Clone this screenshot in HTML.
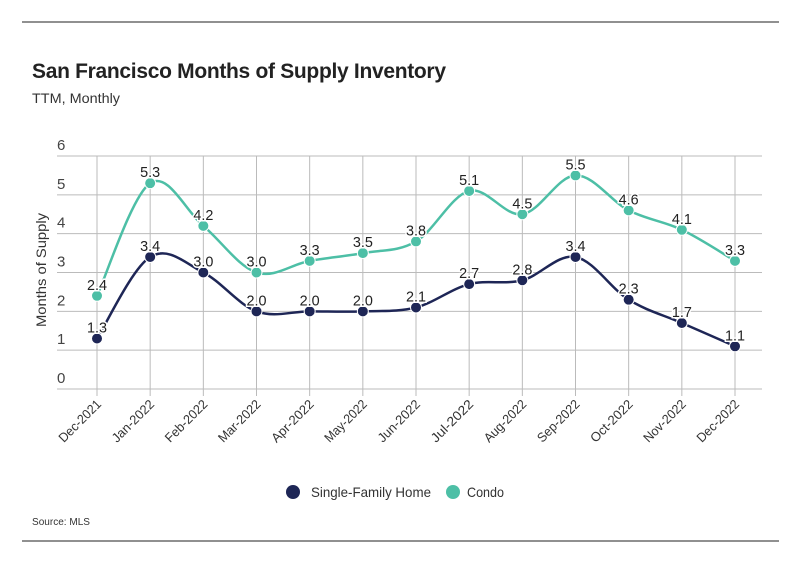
<!DOCTYPE html>
<html><head><meta charset="utf-8"><style>
body{margin:0;background:#fff;font-family:"Liberation Sans",sans-serif;}
svg text{font-family:"Liberation Sans",sans-serif;}
</style></head><body>
<svg id="chart" width="799" height="575" viewBox="0 0 799 575" xmlns="http://www.w3.org/2000/svg">
<line x1="22" y1="22" x2="779" y2="22" stroke="#222" stroke-width="1"/>
<line x1="22" y1="541" x2="779" y2="541" stroke="#222" stroke-width="1"/>
<text x="32" y="78" font-size="21" font-weight="bold" fill="#222" textLength="414">San Francisco Months of Supply Inventory</text>
<text x="32" y="103" font-size="14" fill="#333" textLength="88" lengthAdjust="spacingAndGlyphs">TTM, Monthly</text>
<text transform="translate(46,270) rotate(-90)" text-anchor="middle" font-size="14" fill="#333" textLength="114" lengthAdjust="spacingAndGlyphs">Months of Supply</text>
<g id="grid"></g><g id="series"></g><g id="labels"></g>
<g>
<circle cx="293" cy="492" r="7" fill="#1e2656"/>
<text x="311" y="497" font-size="14" fill="#333" textLength="120" lengthAdjust="spacingAndGlyphs">Single-Family Home</text>
<circle cx="453" cy="492" r="7" fill="#4dbfa6"/>
<text x="467" y="497" font-size="14" fill="#333" textLength="37" lengthAdjust="spacingAndGlyphs">Condo</text>
</g>
<text x="32" y="525" font-size="10" fill="#333" textLength="58" lengthAdjust="spacingAndGlyphs">Source:  MLS</text>
</svg>
<script>
const categories=["Dec-2021","Jan-2022","Feb-2022","Mar-2022","Apr-2022","May-2022","Jun-2022","Jul-2022","Aug-2022","Sep-2022","Oct-2022","Nov-2022","Dec-2022"];
const sfhValues=[1.3,3.4,3.0,2.0,2.0,2.0,2.1,2.7,2.8,3.4,2.3,1.7,1.1];
const condoValues=[2.4,5.3,4.2,3.0,3.3,3.5,3.8,5.1,4.5,5.5,4.6,4.1,3.3];
const yTicks=[0,1,2,3,4,5,6];
const NS="http://www.w3.org/2000/svg";
const x0=97,x1=735,yb=389,yt=156,ymax=6;
function xs(i){return x0+(x1-x0)*i/(categories.length-1);}
function ys(v){return yb-(yb-yt)*v/ymax;}
function mk(tag,attrs,parent){const e=document.createElementNS(NS,tag);for(const k in attrs)e.setAttribute(k,attrs[k]);parent.appendChild(e);return e;}
const grid=document.getElementById('grid');
yTicks.forEach(t=>{
 const l=mk('line',{x1:57,x2:762,y1:ys(t),y2:ys(t),stroke:'#bbb','stroke-width':1},grid);
 
 
 const tx=mk('text',{x:57,y:ys(t)-6,'font-size':15,fill:'#444'},grid);
 tx.textContent=t;
 
 
});
categories.forEach((c,i)=>{
 const l=mk('line',{x1:xs(i),x2:xs(i),y1:yt,y2:yb+7,stroke:'#bbb','stroke-width':1},grid);
 
 
 const tx=mk('text',{x:xs(i)+5,y:yb+16,'font-size':13,fill:'#333','text-anchor':'end',textLength:54,lengthAdjust:'spacingAndGlyphs',transform:`rotate(-45 ${xs(i)+5} ${yb+16})`},grid);
 tx.textContent=c;
 
 
});
function path(vals){
 const p=vals.map((v,i)=>[xs(i),ys(v)]);
 let d=`M${p[0][0]},${p[0][1]}`;
 for(let i=0;i<p.length-1;i++){
  const a=p[Math.max(0,i-1)],b=p[i],c=p[i+1],e=p[Math.min(p.length-1,i+2)];
  const t=0.17;
  d+=` C${b[0]+(c[0]-a[0])*t},${b[1]+(c[1]-a[1])*t} ${c[0]-(e[0]-b[0])*t},${c[1]-(e[1]-b[1])*t} ${c[0]},${c[1]}`;
 }
 return d;
}
const ser=document.getElementById('series'),lab=document.getElementById('labels');
[[condoValues,'#4dbfa6','condo'],[sfhValues,'#1e2656','sfh']].forEach(([vals,col,nm])=>{
 const pe=mk('path',{d:path(vals),fill:'none',stroke:col,'stroke-width':2.5},ser);
 
 
 vals.forEach((v,i)=>{
  const c=mk('circle',{cx:xs(i),cy:ys(v),r:5.5,fill:col,stroke:'#fff','stroke-width':1},ser);
  
  
  const t=mk('text',{x:xs(i),y:ys(v)-6,'font-size':15,fill:'#222','text-anchor':'middle',textLength:20,lengthAdjust:'spacingAndGlyphs',stroke:'#fff','stroke-width':3,'paint-order':'stroke'},lab);
  t.textContent=v.toFixed(1);
  
  
 });
});
</script>
</body></html>
